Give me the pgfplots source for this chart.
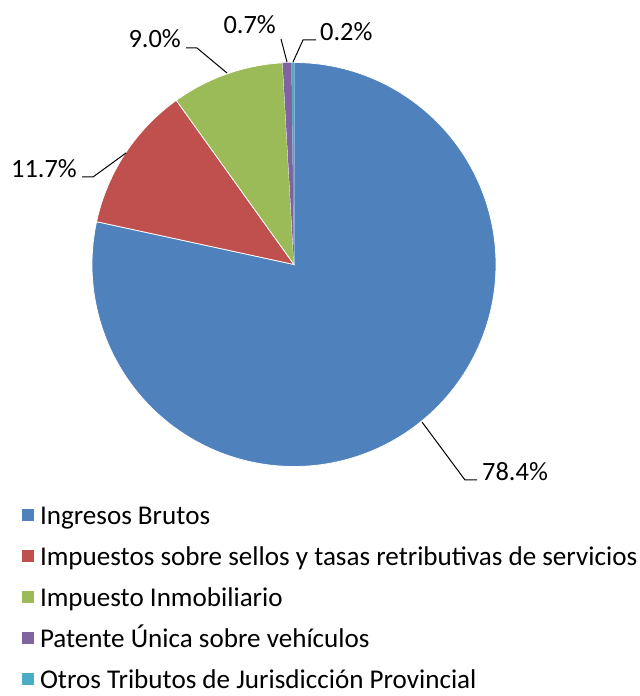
\documentclass[border=0pt]{standalone}
\usepackage{fontspec}
\setmainfont{Carlito}
\usepackage{pgfplots}
\pgfplotsset{compat=1.18}
\definecolor{c1}{HTML}{4F81BD}
\definecolor{c2}{HTML}{C0504D}
\definecolor{c3}{HTML}{9BBB59}
\definecolor{c4}{HTML}{8064A2}
\definecolor{c5}{HTML}{4BACC6}
% shares (percent)
\def\pA{78.4}\def\pB{11.7}\def\pC{9.0}\def\pD{0.7}\def\pE{0.2}
\def\R{202}
\newcommand{\fnt}{\fontsize{26.5}{30}\selectfont}
\newcommand{\lfnt}{\fontsize{27.2}{30}\selectfont}
\begin{document}
\begin{tikzpicture}
\pgfmathsetmacro{\aA}{90}
\pgfmathsetmacro{\aB}{\aA-3.6*\pA}
\pgfmathsetmacro{\aC}{\aB-3.6*\pB}
\pgfmathsetmacro{\aD}{\aC-3.6*\pC}
\pgfmathsetmacro{\aE}{\aD-3.6*\pD}
\pgfmathsetmacro{\aF}{\aE-3.6*\pE}
\begin{axis}[
  name=ax,
  scale only axis, width=640bp, height=696bp,
  xmin=-294, xmax=346, ymin=-431.5, ymax=264.5,
  hide axis, clip=false,
  legend image code/.code={\fill[#1] (0bp,-4.5bp) rectangle (12bp,7.5bp);},
  legend style={at={(axis cs:-272,-240.5)}, anchor=north west, draw=none, fill=none,
    inner sep=0pt, outer sep=0pt, row sep=17bp, column sep=6bp,
    nodes={inner sep=0pt, outer sep=0pt, text height=20bp, text depth=4bp},
    font=\lfnt},
  legend cell align=left,
]
\addplot[forget plot, fill=c1, draw=white, line width=0.75bp, data cs=polar, domain=\aB:\aA, samples=300] {\R} -- (axis cs:0,0) -- cycle;
\addplot[forget plot, fill=c2, draw=white, line width=0.75bp, data cs=polar, domain=\aC:\aB, samples=80] {\R} -- (axis cs:0,0) -- cycle;
\addplot[forget plot, fill=c3, draw=white, line width=0.75bp, data cs=polar, domain=\aD:\aC, samples=60] {\R} -- (axis cs:0,0) -- cycle;
\addplot[forget plot, fill=c4, draw=none, data cs=polar, domain=\aE:\aD, samples=10] {\R} -- (axis cs:0,0) -- cycle;
\addplot[forget plot, fill=c5, draw=none, data cs=polar, domain=\aF:\aE, samples=5] {\R} -- (axis cs:0,0) -- cycle;
% leader lines
\draw[line width=1bp] (axis cs:128,-157.5) -- (axis cs:171,-215.5) -- (axis cs:183,-215.5);
\draw[line width=1bp] (axis cs:-168,111.5) -- (axis cs:-201,87.5) -- (axis cs:-212,87.5);
\draw[line width=1bp] (axis cs:-67,191.5) -- (axis cs:-97,216.5) -- (axis cs:-108,216.5);
\draw[line width=1bp] (axis cs:-7,202.5) -- (axis cs:-13,225.5);
\draw[line width=1bp] (axis cs:-1,202.5) -- (axis cs:9,224.5) -- (axis cs:22,224.5);
% labels
\begin{scope}[every node/.style={font=\fnt, inner sep=0pt}]
\node[anchor=base west] at (axis cs:188,-216.5) {78.4\%};
\node[anchor=base east] at (axis cs:-217,86.5) {11.7\%};
\node[anchor=base east] at (axis cs:-113,216.5) {9.0\%};
\node[anchor=base east] at (axis cs:-18,230.5) {0.7\%};
\node[anchor=base west] at (axis cs:26,223.5) {0.2\%};
\end{scope}
\addlegendimage{fill=c1, draw=none}\addlegendentry{Ingresos Brutos}
\addlegendimage{fill=c2, draw=none}\addlegendentry{Impuestos sobre sellos y tasas retributivas de servicios}
\addlegendimage{fill=c3, draw=none}\addlegendentry{Impuesto Inmobiliario}
\addlegendimage{fill=c4, draw=none}\addlegendentry{Patente Única sobre vehículos}
\addlegendimage{fill=c5, draw=none}\addlegendentry{Otros Tributos de Jurisdicción Provincial}
\end{axis}
\pgfresetboundingbox
\path (ax.south west) rectangle (ax.north east);
\end{tikzpicture}
\end{document}
